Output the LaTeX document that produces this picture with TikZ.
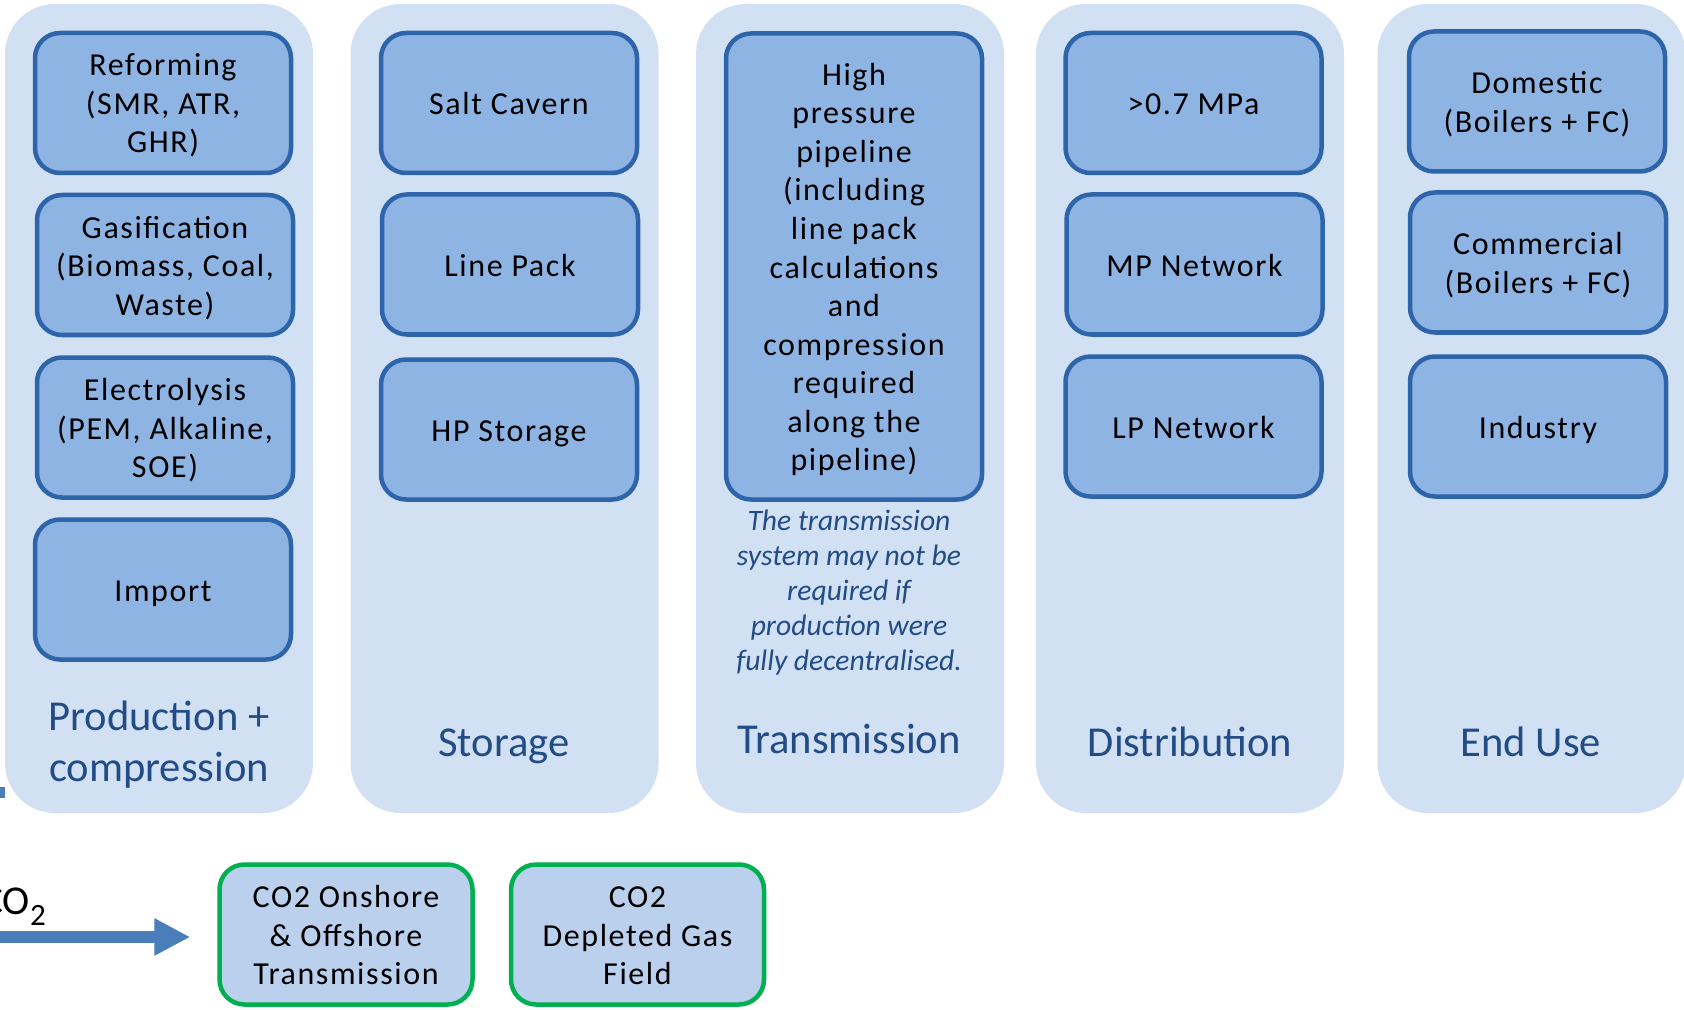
\documentclass[tikz,border=0pt]{standalone}
\usepackage{fontspec}
\setmainfont{Carlito}
\newfontfamily\boxfont{Carlito}[LetterSpace=5]
\usetikzlibrary{arrows.meta}
\definecolor{colfill}{RGB}{210,224,243}
\definecolor{boxfill}{RGB}{142,180,227}
\definecolor{boxline}{RGB}{46,100,170}
\definecolor{labblue}{RGB}{33,76,133}
\definecolor{cofill}{RGB}{187,208,237}
\definecolor{cogreen}{RGB}{0,176,80}
\definecolor{arrowblue}{RGB}{74,126,187}
\newcommand{\boxlines}[1]{\raisebox{-1.9pt}[\height][\depth]{\begin{tabular}{@{}c@{}}#1\end{tabular}}}
\tikzset{
  column/.style={fill=colfill, rounded corners=25pt, minimum width=154pt, minimum height=404.5pt, inner sep=0pt},
  innerbox/.style={draw=boxline, line width=2.25pt, fill=boxfill, rounded corners=12.5pt,
    minimum width=128pt, minimum height=70pt, inner sep=0pt,
    font=\boxfont\fontsize{16}{19.25}\selectfont, text=black},
  cobox/.style={innerbox, draw=cogreen, fill=cofill, minimum width=126.5pt},
  collabel/.style={align=center, text=labblue, font=\fontsize{21.3}{25.5}\selectfont, inner sep=0pt},
  notetext/.style={align=center, text=labblue, font=\itshape\fontsize{14.8}{17.5}\selectfont, inner sep=0pt},
}
\begin{document}
\begin{tikzpicture}[x=0.5pt, y=-0.5pt]
\useasboundingbox (0,0) rectangle (1684,1010);
% columns
\node[column] (col1) at (159,408.5) {};
\node[column] (col2) at (504.5,408.5) {};
\node[column] (col3) at (850,408.5) {};
\node[column] (col4) at (1190,408.5) {};
\node[column] (col5) at (1531.5,408.5) {};
% production
\node[innerbox] (ref) at (163,103) {\boxlines{Reforming\\(SMR, ATR,\\GHR)}};
\node[innerbox] (gas) at (165,265) {\boxlines{Gasification\\(Biomass, Coal,\\Waste)}};
\node[innerbox] (ele) at (165,427.5) {\boxlines{Electrolysis\\(PEM, Alkaline,\\SOE)}};
\node[innerbox] (imp) at (163,589.5) {\boxlines{Import}};
% storage
\node[innerbox] (salt) at (509,103) {\boxlines{Salt Cavern}};
\node[innerbox] (line) at (510,264.5) {\boxlines{Line Pack}};
\node[innerbox] (hps) at (509,429.5) {\boxlines{HP Storage}};
% transmission
\node[innerbox, minimum height=233pt] (hpp) at (854,266.5)
  {\boxlines{High\\pressure\\pipeline\\(including\\line pack\\calculations\\and\\compression\\required\\along the\\pipeline)}};
\node[notetext] (note) at (849,592.5) {The transmission\\system may not be\\required if\\production were\\fully decentralised.};
% distribution
\node[innerbox] (mpa) at (1193.5,103) {\boxlines{>0.7 MPa}};
\node[innerbox] (mpn) at (1194.5,264.5) {\boxlines{MP Network}};
\node[innerbox] (lpn) at (1193.5,426.5) {\boxlines{LP Network}};
% end use
\node[innerbox] (dom) at (1537,101.5) {\boxlines{Domestic\\(Boilers + FC)}};
\node[innerbox] (com) at (1538,262.5) {\boxlines{Commercial\\(Boilers + FC)}};
\node[innerbox] (ind) at (1538,426.5) {\boxlines{Industry}};
% column labels
\node[collabel] (lab1) at (159,745) {Production +\\compression};
\node[collabel] (lab2) at (504,746) {Storage};
\node[collabel] (lab3) at (849,739) {Transmission};
\node[collabel] (lab4) at (1190,742) {Distribution};
\node[collabel] (lab5) at (1531,742) {End Use};
% CO2 chain
\node[cobox] (co1) at (346,934.5) {\boxlines{CO2 Onshore\\\& Offshore\\Transmission}};
\node[cobox] (co2) at (637.5,934.5) {\boxlines{CO2\\Depleted Gas\\Field}};
\node[anchor=base west, inner sep=0pt, font=\fontsize{20.5}{24}\selectfont] (co2label) at (-19,914)
  {CO\raisebox{-5.5pt}{\fontsize{15.5}{16}\selectfont 2}};
\coordinate (arrstart) at (-20,937);
\draw[arrowblue, line width=6pt, shorten >=13.5pt, -{Triangle[length=18pt,width=17.5pt]}] (arrstart) -- (arrstart -| co1.west);
\fill[arrowblue] (-10,787) rectangle (5,798);
\end{tikzpicture}
\end{document}
